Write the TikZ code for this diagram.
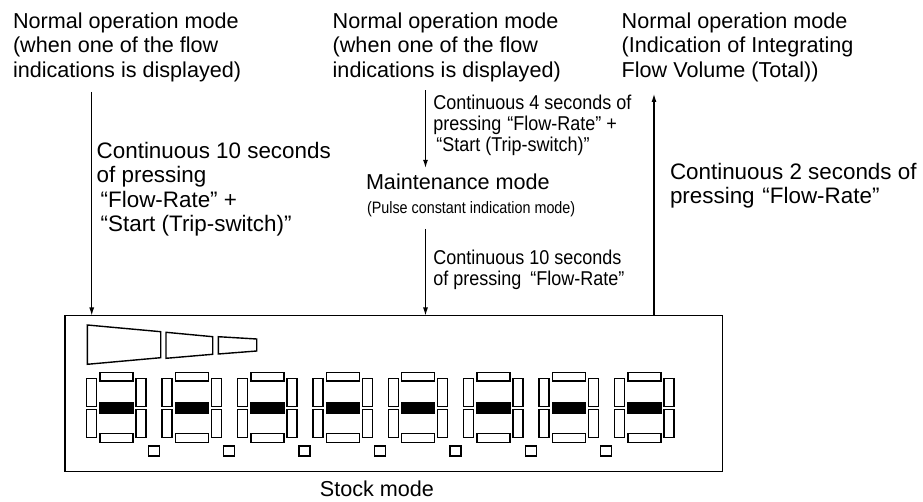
\documentclass[tikz,border=0pt]{standalone}
\usepackage{fontspec}
\setmainfont{Liberation Sans}
\newfontfamily\narrowfont[FakeStretch=0.9]{Liberation Sans}
\newfontfamily\pulsefont[FakeStretch=0.87]{Liberation Sans}
\usetikzlibrary{arrows.meta}

\tikzset{
  every node/.style={inner sep=0pt, outer sep=0pt},
  maintext/.style={anchor=north west, align=left, font=\fontsize{21.6}{24.5}\selectfont},
  keytext/.style={anchor=north west, align=left, font=\fontsize{22.4}{24.6}\selectfont},
  condtext/.style={anchor=north west, align=left, font=\narrowfont\fontsize{20}{21}\selectfont},
  pulsetext/.style={anchor=north west, align=left, font=\pulsefont\fontsize{16.5}{18}\selectfont},
  modearrow/.style={-{Latex[length=8pt,width=5pt]}, line width=1.1pt},
  seg/.style={draw=black, line width=1.4pt, fill=white},
  barseg/.style={draw=black, line width=1.4pt, fill=black},
  panelbox/.style={draw=black, line width=1.8pt, anchor=north west,
                   minimum width=657.5pt, minimum height=156pt},
}

\begin{document}
\begin{tikzpicture}[x=1pt, y=-1pt]
\useasboundingbox (0,0) rectangle (923,502);

% mode captions along the top
\node[maintext] (normA) at (13,11.35)
  {\strut Normal operation mode\\(when one of the flow\\indications is displayed)};
\node[maintext] (normB) at (332.7,11.35)
  {\strut Normal operation mode\\(when one of the flow\\indications is displayed)};
\node[maintext] (normC) at (621.7,11.35)
  {\strut Normal operation mode\\(Indication of Integrating\\Flow Volume (Total))};

% key operations
\node[keytext] (keyA) at (96.7,140.8)
  {\strut Continuous 10 seconds\\of pressing\\\hspace*{4pt}“Flow-Rate” +\\\hspace*{4pt}“Start (Trip-switch)”};
\node[condtext] (keyB) at (433.3,95.3)
  {\strut Continuous 4 seconds of\\pressing \hspace*{1pt}“Flow-Rate” +\\\hspace*{3pt}“Start (Trip-switch)”};
\node[condtext] (keyC) at (433.3,250.3)
  {\strut Continuous 10 seconds\\of pressing\hspace*{0.45em}“Flow-Rate”};
\node[keytext] (keyD) at (670,161.8)
  {\strut Continuous 2 seconds of\\pressing\hspace*{0.35em}“Flow-Rate”};

% maintenance mode
\node[maintext] (maint) at (366,172.85) {\strut Maintenance mode};
\node[pulsetext] (pulse) at (367,201.4) {\strut (Pulse constant indication mode)};

% display panel (stock mode)
\node[panelbox] (panel) at (65,315.5) {};
\node[anchor=base, font=\fontsize{21.6}{24.5}\selectfont] (stock) at (377,496) {Stock mode};

% bar graph
\draw[seg] (87.3,325) -- (160.7,331.7) -- (160.7,357.7) -- (87.3,364.3) -- cycle;
\draw[seg] (166,332.3) -- (212.7,336.7) -- (212.7,354.3) -- (166,358.3) -- cycle;
\draw[seg] (218.3,336.7) -- (256.7,339) -- (256.7,351) -- (218.3,354) -- cycle;

% seven-segment digits
\foreach \k in {0,...,7}{
  \pgfmathsetmacro{\dx}{75.4*\k}
  \draw[seg] ({86.7+\dx},378.3) rectangle ({96.7+\dx},406.7);
  \draw[seg] ({86.7+\dx},409.3) rectangle ({96.7+\dx},437.3);
  \draw[seg] ({136+\dx},378.3) rectangle ({146+\dx},406.7);
  \draw[seg] ({136+\dx},409.3) rectangle ({146+\dx},437.3);
  \draw[seg] ({100+\dx},372.3) rectangle ({133+\dx},381);
  \draw[barseg] ({100+\dx},402.3) rectangle ({133+\dx},413.3);
  \draw[seg] ({100+\dx},433.3) rectangle ({133+\dx},442.7);
}
% decimal points
\foreach \k in {0,...,6}{
  \pgfmathsetmacro{\dx}{75.4*\k}
  \draw[seg] ({148.3+\dx},446) rectangle ({159.3+\dx},456);
}

% transitions
\coordinate (a1) at (91.7,92);
\draw[modearrow] (a1) -- (a1 |- panel.north);
\coordinate (a2) at (425.5,90.5);
\draw[modearrow, shorten >=5pt] (a2) -- (a2 |- maint.north);
\coordinate (a3) at (425.5,229);
\draw[modearrow] (a3) -- (a3 |- panel.north);
\coordinate (a4) at (654,94);
\draw[modearrow] (a4 |- panel.north) -- (a4);
\end{tikzpicture}
\end{document}
